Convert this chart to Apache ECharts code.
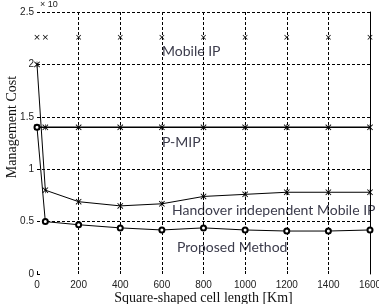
<!DOCTYPE html>
<html>
<head>
<meta charset="UTF-8">
<script src="https://cdn.jsdelivr.net/npm/echarts@6/dist/echarts.min.js"></script>
<style>
  html, body { margin: 0; padding: 0; background: #fff; }
  #chart { width: 379px; height: 304px; }
</style>
</head>
<body>
<div id="chart"></div>
<script>
// cell length [Km]
const cellLength = [0, 40, 200, 400, 600, 800, 1000, 1200, 1400, 1600];
// management cost (x 10^4)
const mobileIP = [2.26, 2.26, 2.26, 2.26, 2.26, 2.26, 2.26, 2.26, 2.26, 2.26];
const pMIP = [1.4, 1.4, 1.4, 1.4, 1.4, 1.4, 1.4, 1.4, 1.4, 1.4];
const handover = [2.0, 0.8, 0.69, 0.65, 0.67, 0.74, 0.76, 0.78, 0.78, 0.78];
const proposed = [1.4, 0.5, 0.47, 0.44, 0.42, 0.44, 0.42, 0.41, 0.41, 0.42];

const xTicks = ['0', '200', '400', '600', '800', '1000', '1200', '1400', '1600'];

const crossSym = 'path://M0,1L1,0L5,4L9,0L10,1L6,5L10,9L9,10L5,6L1,10L0,9L4,5Z';
const starSym = 'path://M0,1L1,0L4.5,3.5L4.5,0L5.5,0L5.5,3.5L9,0L10,1L6,5L10,9L9,10L5.5,6.5L5.5,10L4.5,10L4.5,6.5L1,10L0,9L4,5Z';

function pairs(ys) {
    return cellLength.map(function (x, i) { return [x, ys[i]]; });
}

const chart = echarts.init(document.getElementById('chart'));
const textColor = '#3c3c4c';

chart.setOption({
    animation: false,
    grid: { left: 37, right: 9, top: 12, bottom: 30, outerBoundsMode: 'none', containLabel: false },
    xAxis: {
        type: 'value',
        min: 0, max: 1600, interval: 200,
        axisLine: { show: false },
        axisTick: { show: true, inside: true, length: 3, lineStyle: { color: '#000' } },
        axisLabel: {
            color: '#222', fontSize: 10, fontFamily: 'Liberation Sans', margin: 6,
            formatter: function (v) { return xTicks[v / 200]; }
        },
        splitLine: { show: true, showMinLine: false, lineStyle: { color: '#000', type: [3, 2], width: 1 } },
        name: 'Square-shaped cell length [Km]',
        nameLocation: 'middle',
        nameGap: 17,
        nameMoveOverlap: false,
        nameTextStyle: { fontFamily: 'Liberation Serif', fontSize: 14, color: '#111' }
    },
    yAxis: [{
        type: 'value',
        min: 0, max: 2.5, interval: 0.5,
        axisLine: { show: false },
        axisTick: { show: true, inside: true, length: 3, lineStyle: { color: '#000' } },
        axisLabel: { color: '#222', fontSize: 10, fontFamily: 'Liberation Sans', margin: 3 },
        splitLine: { show: true, showMinLine: false, lineStyle: { color: '#000', type: [3, 2], width: 1 } },
        name: 'Management Cost',
        nameLocation: 'middle',
        nameGap: 18,
        nameMoveOverlap: false,
        nameTextStyle: { fontFamily: 'Liberation Serif', fontSize: 14, color: '#111', padding: [0, 0, 0, 32] }
    }, {
        type: 'value',
        position: 'right',
        min: 0, max: 2.5, interval: 0.5,
        axisLine: { show: true, lineStyle: { color: '#000', width: 1 } },
        axisTick: { show: false },
        axisLabel: { show: false },
        splitLine: { show: false }
    }],
    graphic: [
        { type: 'text', left: 40, top: 0, style: { text: '× 10', fill: '#222', fontSize: 9, fontFamily: 'Liberation Sans' } },
        { type: 'text', left: 162, top: 44, style: { text: 'Mobile IP', fill: textColor, fontSize: 14, fontFamily: 'Lato' } },
        { type: 'text', left: 162, top: 135, style: { text: 'P-MIP', fill: textColor, fontSize: 14, fontFamily: 'Lato' } },
        { type: 'text', left: 172, top: 203, style: { text: 'Handover independent Mobile IP', fill: textColor, fontSize: 14, fontFamily: 'Lato' } },
        { type: 'text', left: 177, top: 240, style: { text: 'Proposed Method', fill: textColor, fontSize: 14, fontFamily: 'Lato' } }
    ],
    series: [{
        name: 'Mobile IP',
        type: 'line',
        data: pairs(mobileIP),
        lineStyle: { opacity: 0 },
        symbol: crossSym, symbolSize: 5,
        itemStyle: { color: '#000' }
    }, {
        name: 'P-MIP',
        type: 'line',
        data: pairs(pMIP),
        lineStyle: { color: '#000', width: 1.5 },
        symbol: starSym, symbolSize: 6,
        itemStyle: { color: '#000' }
    }, {
        name: 'Handover independent Mobile IP',
        type: 'line',
        data: pairs(handover),
        lineStyle: { color: '#000', width: 1 },
        symbol: starSym, symbolSize: 6,
        itemStyle: { color: '#000' }
    }, {
        name: 'Proposed Method',
        type: 'line',
        data: pairs(proposed),
        lineStyle: { color: '#000', width: 1 },
        symbol: 'emptyCircle', symbolSize: 5,
        itemStyle: { color: '#000', borderWidth: 0.8 }
    }]
});
</script>
</body>
</html>
